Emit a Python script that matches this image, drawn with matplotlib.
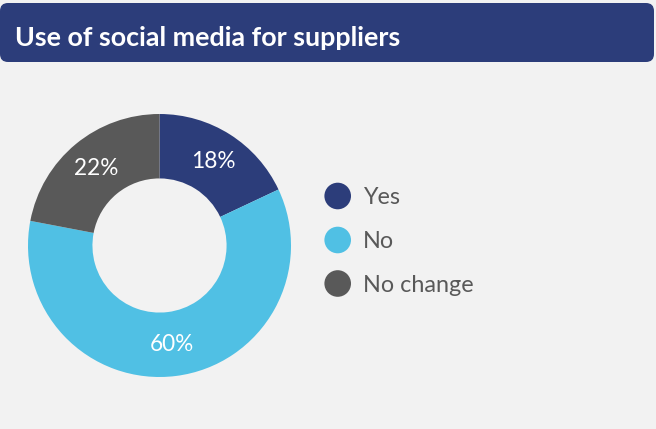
import matplotlib
matplotlib.use("Agg")
import matplotlib.pyplot as plt
from matplotlib.patches import FancyBboxPatch, Circle

title = "Use of social media for suppliers"
categories = ["Yes", "No", "No change"]
values = [18, 60, 22]
colors = ["#2c3d7a", "#50c0e4", "#595959"]

W, H = 656, 429
fig = plt.figure(figsize=(W / 100, H / 100), dpi=100)
fig.patch.set_facecolor("#f2f2f2")
font = ["Lato", "DejaVu Sans"]

# header band
hdr = fig.add_axes([0, 0, 1, 1])
hdr.set_xlim(0, W)
hdr.set_ylim(H, 0)
hdr.axis("off")
hdr.add_patch(FancyBboxPatch((0, 3), 654, 59, boxstyle="round,pad=0,rounding_size=8",
                             facecolor="#2c3d7a", edgecolor="none"))
hdr.text(15, 45.7, title, color="white", fontsize=19.4, fontweight="bold",
         family=font, va="baseline", ha="left")

# legend markers and labels
legend_y = [196, 240, 283.5]
for y, name, col in zip(legend_y, categories, colors):
    hdr.add_patch(Circle((337.7, y), 13.3, facecolor=col, edgecolor="none"))
    hdr.text(363, y + 8.5, name, color="#595959", fontsize=16.8, family=font,
             va="baseline", ha="left")

# donut
cx, cy, r = 159.5, 245.5, 131.5
ax = fig.add_axes([(cx - r) / W, (H - cy - r) / H, 2 * r / W, 2 * r / H])
wedges, texts, autotexts = ax.pie(
    values, colors=colors, startangle=90, counterclock=False, radius=1,
    wedgeprops=dict(width=0.49, edgecolor="none"),
    autopct=lambda p: f"{p:.0f}%", pctdistance=0.76,
    textprops=dict(color="white", fontsize=16.3, family=font))
ax.set_xlim(-1, 1)
ax.set_ylim(-1, 1)
ax.set_aspect("auto")
ax.axis("off")

fig.savefig("out.png", dpi=100, facecolor=fig.get_facecolor())
